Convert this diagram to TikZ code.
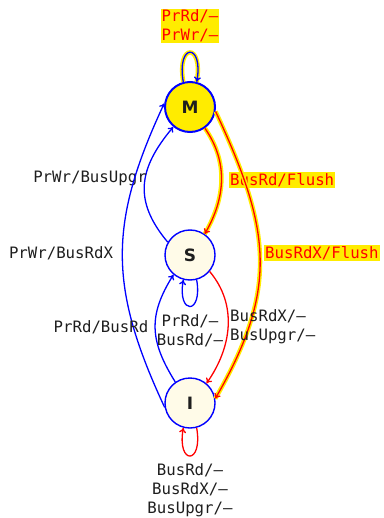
\documentclass[tikz,border=0pt]{standalone}
\usepackage{fontspec}
\newfontfamily\monofont{DejaVu Sans Mono}
\newfontfamily\statefont{DejaVu Sans}
\usetikzlibrary{arrows.meta}
\definecolor{hl}{RGB}{255,236,0}
\definecolor{cream}{RGB}{255,251,232}
\definecolor{txt}{RGB}{30,30,30}
\tikzset{
  state/.style={circle, draw=blue, line width=1.4pt, minimum size=50pt, inner sep=0pt, fill=cream, font=\statefont\bfseries\fontsize{17}{20}\selectfont, text=txt},
  lbl/.style={font=\monofont\fontsize{15.7}{19}\selectfont, text=txt, inner sep=1pt, align=center},
  hllbl/.style={lbl, text=red, fill=hl},
  bl/.style={draw=blue, line width=1.3pt, -{To[length=5pt,width=7pt]}},
  rd/.style={draw=red, line width=1.3pt, -{To[length=5pt,width=7pt]}},
  hlr/.style={draw=red, line width=1.3pt, -{To[length=5pt,width=7pt]}, preaction={draw=hl, line width=4.4pt, -}},
  hlb/.style={draw=blue, line width=1.3pt, -{To[length=5pt,width=7pt]}, preaction={draw=hl, line width=4.4pt, -}},
}
\begin{document}
\begin{tikzpicture}[x=1pt,y=1pt]
\useasboundingbox (0,0) rectangle (383,-518);
\node[state, fill=hl, line width=2pt] (M) at (190,-107) {M};
\node[state] (S) at (190,-255) {S};
\node[state] (I) at (190,-403) {I};
% M loop
\draw[hlb] (M.105) .. controls +(100:40) and +(80:40) .. (M.75);
\node[hllbl] (lm) at (190,-26) {PrRd/–\\PrWr/–};
% M -> S
\draw[hlr] (M.-55) to[out=-55,in=60] (S.55);
\node[hllbl, anchor=west] (l1) at (229,-180) {BusRd/Flush};
% M -> I
\draw[hlr] (M.-10) to[out=-65,in=60,looseness=1.15] (I.10);
\node[hllbl, anchor=west] (l2) at (264,-253) {BusRdX/Flush};
% S -> M
\draw[bl] (S.150) to[out=130,in=-130,looseness=1.2] (M.-130);
\node[lbl] (l3) at (90,-178) {PrWr/BusUpgr};
% I -> M
\draw[bl] (I.190) to[out=115,in=-115,looseness=1.12] (M.172);
\node[lbl] (l4) at (61,-253) {PrWr/BusRdX};
% I -> S
\draw[bl] (I.125) to[out=122,in=-122,looseness=1.15] (S.-130);
\node[lbl] (l5) at (101,-327) {PrRd/BusRd};
% S loop
\draw[bl] (S.-75) .. controls +(-80:36) and +(-100:36) .. (S.-105);
\node[lbl] (l6) at (190,-331) {PrRd/–\\BusRd/–};
% S -> I
\draw[rd] (S.-40) to[out=-50,in=55] (I.50);
\node[lbl, align=left, anchor=west] (l7) at (229,-327) {BusRdX/–\\BusUpgr/–};
% I loop
\draw[rd] (I.-75) .. controls +(-80:38) and +(-100:38) .. (I.-105);
\node[lbl] (l8) at (190,-490) {BusRd/–\\BusRdX/–\\BusUpgr/–};
\end{tikzpicture}
\end{document}
